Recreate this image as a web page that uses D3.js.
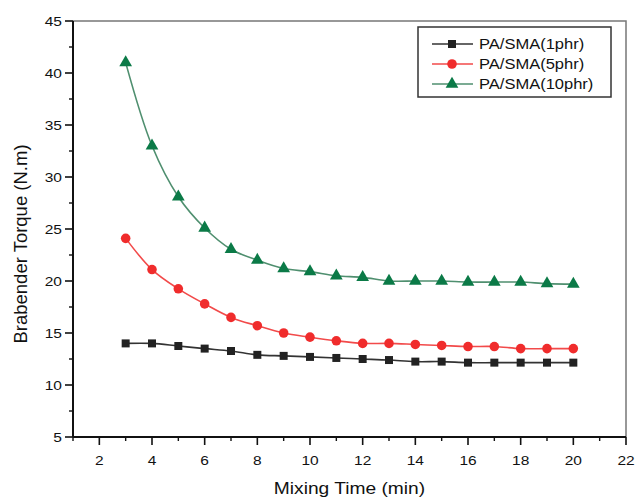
<!DOCTYPE html>
<html>
<head>
<meta charset="utf-8">
<script src="https://cdn.jsdelivr.net/npm/d3@7"></script>
<style>
  body { margin: 0; background: #fff; }
  svg text { font-family: "Liberation Sans", Arial, sans-serif; fill: #111; }
</style>
</head>
<body>
<div id="chart"></div>
<script>
// mixing time (min)
var mixingTime = [3, 4, 5, 6, 7, 8, 9, 10, 11, 12, 13, 14, 15, 16, 17, 18, 19, 20]

// brabender torque (N.m)
var torque1phr = [14.0, 14.0, 13.75, 13.5, 13.27, 12.9, 12.8, 12.7, 12.6, 12.5, 12.4, 12.25, 12.25, 12.15, 12.15, 12.15, 12.15, 12.15]
var torque5phr = [24.1, 21.1, 19.25, 17.8, 16.5, 15.7, 15.0, 14.6, 14.25, 14.0, 14.0, 13.9, 13.8, 13.7, 13.7, 13.5, 13.5, 13.5]
var torque10phr = [41.0, 33.0, 28.1, 25.1, 23.05, 22.0, 21.2, 20.9, 20.5, 20.35, 20.0, 20.0, 20.0, 19.9, 19.9, 19.9, 19.75, 19.7]

var seriesNames = ["PA/SMA(1phr)", "PA/SMA(5phr)", "PA/SMA(10phr)"]

var xMajorTicks = [2, 4, 6, 8, 10, 12, 14, 16, 18, 20, 22]
var xMinorTicks = [1, 3, 5, 7, 9, 11, 13, 15, 17, 19, 21]
var yMajorTicks = [5, 10, 15, 20, 25, 30, 35, 40, 45]
var yMinorTicks = [7.5, 12.5, 17.5, 22.5, 27.5, 32.5, 37.5, 42.5]

var config = {
  width: 636,
  height: 500,
  plot: { left: 73, right: 626, top: 21, bottom: 437 },
  stretch: 1.15,   // the figure's lettering is wider than plain Arial
  styles: [
    { line: "#333333", mark: "#222222", shape: d3.symbolSquare, size: 64 },
    { line: "#f24a4a", mark: "#f02c2c", shape: d3.symbolCircle, size: 72 },
    { line: "#4f8f6f", mark: "#0b7a47", shape: d3.symbolTriangle, size: 70 }
  ]
}

var series = [torque1phr, torque5phr, torque10phr].map(function(values, i){
  return {
    name: seriesNames[i],
    points: values.map(function(v, j){ return { x: mixingTime[j], y: v } })
  }
})

var x = d3.scaleLinear().domain([1, 22]).range([config.plot.left, config.plot.right])
var y = d3.scaleLinear().domain([5, 45]).range([config.plot.bottom, config.plot.top])

var svg = d3.select("#chart").append("svg")
    .attr("width", config.width)
    .attr("height", config.height)

// put a wide text at (px, py)
function wideText(g, px, py, str, size, sx){
  return g.append("text")
      .attr("transform", "translate(" + px + "," + py + ") scale(" + sx + ",1)")
      .style("font-size", size + "px")
      .text(str)
}

// frame (top and right edges)
svg.append("path")
    .attr("d", "M" + config.plot.left + "," + config.plot.top + "H" + config.plot.right + "V" + config.plot.bottom)
    .attr("fill", "none")
    .attr("stroke", "#777")
    .attr("stroke-width", 1.5)

// x axis
var xAxis = svg.append("g").attr("class", "x-axis")
xAxis.append("line")
    .attr("x1", config.plot.left).attr("x2", config.plot.right)
    .attr("y1", config.plot.bottom).attr("y2", config.plot.bottom)
    .attr("stroke", "#111").attr("stroke-width", 2)
xAxis.selectAll(".major").data(xMajorTicks).enter().append("line")
    .attr("x1", function(d){ return x(d) }).attr("x2", function(d){ return x(d) })
    .attr("y1", config.plot.bottom).attr("y2", config.plot.bottom + 8)
    .attr("stroke", "#111").attr("stroke-width", 1.6)
xAxis.selectAll(".minor").data(xMinorTicks).enter().append("line")
    .attr("x1", function(d){ return x(d) }).attr("x2", function(d){ return x(d) })
    .attr("y1", config.plot.bottom).attr("y2", config.plot.bottom + 4)
    .attr("stroke", "#111").attr("stroke-width", 1.4)
xMajorTicks.forEach(function(d){
  wideText(xAxis, x(d), 465, d, 13.5, config.stretch).attr("text-anchor", "middle")
})
wideText(svg, (config.plot.left + config.plot.right) / 2, 494, "Mixing Time (min)", 16, 1.2)
    .attr("text-anchor", "middle")

// y axis
var yAxis = svg.append("g").attr("class", "y-axis")
yAxis.append("line")
    .attr("x1", config.plot.left).attr("x2", config.plot.left)
    .attr("y1", config.plot.top).attr("y2", config.plot.bottom)
    .attr("stroke", "#111").attr("stroke-width", 2)
yAxis.selectAll(".major").data(yMajorTicks).enter().append("line")
    .attr("x1", config.plot.left - 8).attr("x2", config.plot.left)
    .attr("y1", function(d){ return y(d) }).attr("y2", function(d){ return y(d) })
    .attr("stroke", "#111").attr("stroke-width", 1.6)
yAxis.selectAll(".minor").data(yMinorTicks).enter().append("line")
    .attr("x1", config.plot.left - 4).attr("x2", config.plot.left)
    .attr("y1", function(d){ return y(d) }).attr("y2", function(d){ return y(d) })
    .attr("stroke", "#111").attr("stroke-width", 1.4)
yMajorTicks.forEach(function(d){
  wideText(yAxis, 62, y(d) + 5, d, 13.5, config.stretch).attr("text-anchor", "end")
})
svg.append("text")
    .attr("transform", "translate(27,244) rotate(-90)")
    .attr("text-anchor", "middle")
    .style("font-size", "18.5px")
    .text("Brabender Torque (N.m)")

// curves and markers
var line = d3.line()
    .x(function(d){ return x(d.x) })
    .y(function(d){ return y(d.y) })
    .curve(d3.curveCatmullRom)

var group = svg.selectAll(".series")
    .data(series)
  .enter().append("g")
    .attr("class", "series")

group.append("path")
    .attr("d", function(d){ return line(d.points) })
    .attr("fill", "none")
    .attr("stroke", function(d, i){ return config.styles[i].line })
    .attr("stroke-width", 1.6)

group.each(function(d, i){
  var st = config.styles[i]
  d3.select(this).selectAll(".mark")
      .data(d.points)
    .enter().append("path")
      .attr("class", "mark")
      .attr("transform", function(p){ return "translate(" + x(p.x) + "," + y(p.y) + ")" })
      .attr("d", d3.symbol().type(st.shape).size(st.size))
      .attr("fill", st.mark)
})

// legend
var legend = svg.append("g").attr("class", "legend")
legend.append("rect")
    .attr("x", 418).attr("y", 27)
    .attr("width", 193).attr("height", 70)
    .attr("fill", "#fff")
    .attr("stroke", "#333")
    .attr("stroke-width", 1.5)

series.forEach(function(s, i){
  var st = config.styles[i]
  var ly = 44 + i * 20
  legend.append("line")
      .attr("x1", 432).attr("x2", 473)
      .attr("y1", ly).attr("y2", ly)
      .attr("stroke", st.line).attr("stroke-width", 1.6)
  legend.append("path")
      .attr("transform", "translate(452," + ly + ")")
      .attr("d", d3.symbol().type(st.shape).size(st.size))
      .attr("fill", st.mark)
  wideText(legend, 479, ly + 5, s.name, 14, 1.18)
})
</script>
</body>
</html>
